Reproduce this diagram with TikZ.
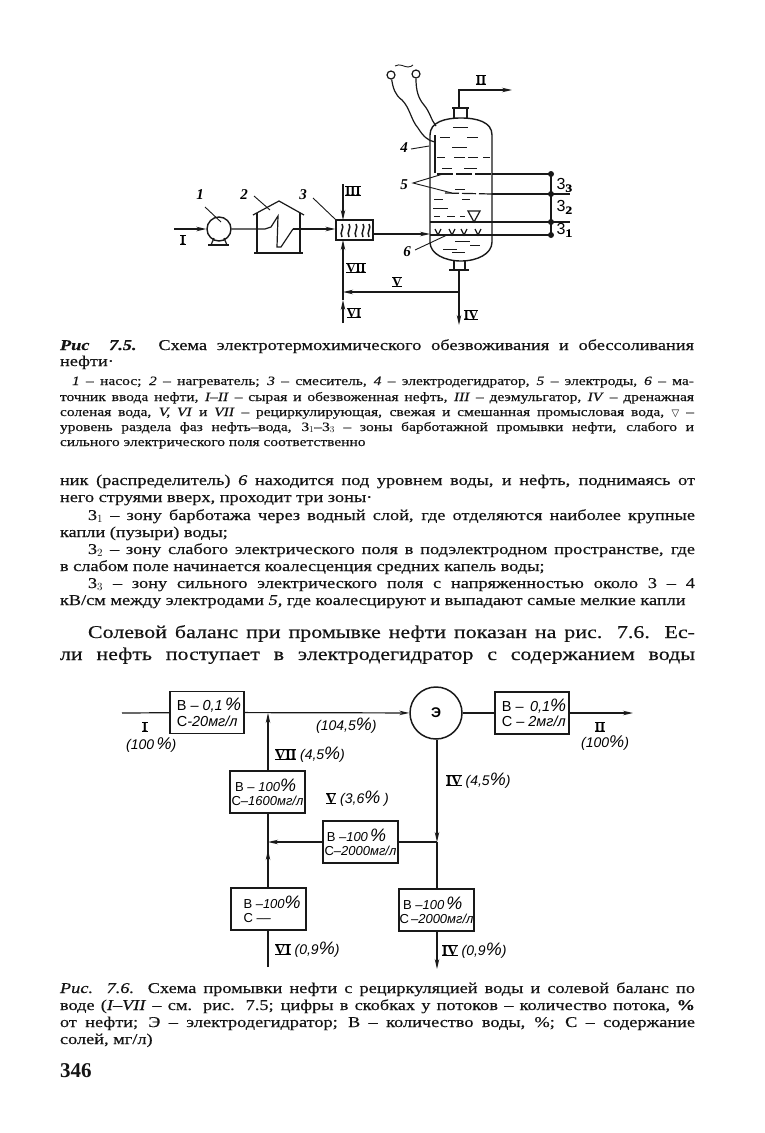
\documentclass[tikz,border=0pt]{standalone}
\usepackage{fontspec}
\setmainfont[FakeStretch=1.22,FakeBold=0.35]{Liberation Serif}
\newfontfamily\plainserif{Liberation Serif}
\newfontfamily\hwfont{Liberation Sans}
\newfontfamily\symfont{DejaVu Sans}
\usetikzlibrary{arrows.meta}
\newcommand{\fs}[1]{\fontsize{#1}{#1}\selectfont}
\newcommand{\rn}[1]{{\plainserif\bfseries\upshape\setbox0\hbox{#1}\rlap{\rule[-0.6pt]{\wd0}{.6pt}}\rlap{\rule[\ht0]{\wd0}{.6pt}}\box0}}
\newcommand{\jline}[6]{\node[pline,font=\fs{#5}] (#1) at (#2,#3) {\makebox[#4pt][s]{#6}};}
\newcommand{\fline}[5]{\node[pline,font=\fs{#4}] (#1) at (#2,#3) {#5};}
\newcommand{\Bu}{{\upshape В}}
\newcommand{\Cu}{{\upshape С}}
\tikzset{
  x=1pt,y=-1pt,
  ink/.style={draw=black!90,line width=1.2pt},
  thin ink/.style={draw=black!90,line width=.9pt},
  arr/.style={ink,-{Stealth[length=10pt,width=4.5pt]}},
  pline/.style={anchor=base west,inner sep=0pt,outer sep=0pt,text=black!92},
  lab/.style={inner sep=0pt,font=\plainserif\fs{15}\itshape\bfseries},
  rom/.style={inner sep=0pt,font=\fs{13}},
  hw/.style={inner sep=0pt,anchor=base west,font=\hwfont\itshape\fs{14}},
  procbox/.style={draw=black!90,line width=1.4pt,fill=white,inner sep=0pt,minimum width=74pt,minimum height=42pt,
     align=left,font=\hwfont\itshape\fs{13}},
  dash line/.style={thin ink},
}
\begin{document}
\begin{tikzpicture}
\useasboundingbox[fill=white] (0,0) rectangle (764,1133);
% ---------- Figure 7.5 ----------
\coordinate (inI) at (174,229);
\node[circle,ink,line width=1.4pt,minimum size=24pt,inner sep=0pt] (pump) at (219,229) {};
\draw[ink,line width=1.6pt] (208,245) -- (229,245);
\draw[ink] (211,245) -- (214,238) (227,245) -- (224,238);
\draw[arr] (inI) -- (pump);
\node[rom] (lI) at (183,240) {\rn{I}};
\node[lab] (n1) at (200,195) {1};
\coordinate (n1e) at (221,222); \draw[thin ink] (205,207) -- (n1e);
% heater
\draw[ink] (253,215) -- (279,201) -- (304,215);
\draw[ink] (257,213) -- (257,253) (300,213) -- (300,253);
\draw[ink] (254,253) -- (303,253);
\coordinate (coilA) at (265,229);
\coordinate (coilB) at (293,229);
\node[draw=black!90,line width=1.3pt,minimum width=37pt,minimum height=20pt,inner sep=0pt] (mixer) at (354.5,230) {};
\draw[ink] (pump) -- (coilA) -- (271,227) -- (278,216) -- (277,247) -- (281,247) -- (coilB);
\draw[arr] (coilB) -- (mixer.west |- coilB);
\foreach \xx in {342,349,356,363,369}{\draw[ink,line width=1.5pt] (\xx,224) .. controls (\xx+3,228) and (\xx-3,232) .. (\xx,237);}
\node[lab] (n2) at (244,195) {2};
\draw[thin ink] (254,196) -- (270,210);
\node[lab] (n3) at (303,195) {3};
\draw[thin ink] (313,198) -- (mixer.north west);
% flows at the mixer
\coordinate (IIItop) at (343,184);
\coordinate (VIbot) at (343,323);
\coordinate (Vj) at (343,292);
\coordinate (Vhalf) at (343,300);
\draw[arr] (IIItop) -- (343,220);
\draw[arr] (Vj) -- (343,240);
\draw[arr] (VIbot) -- (Vhalf);
\draw[ink] (Vhalf) -- (Vj);
\node[rom] (lIII) at (353,191) {\rn{III}};
\node[rom] (lVII) at (356,268) {\rn{VII}};
\node[rom] (lVI) at (354,313) {\rn{VI}};
\node[rom] (lV) at (397,282) {\rn{V}};
% vessel
\coordinate (inlet) at (430,234);
\draw[arr] (mixer.east |- inlet) -- (inlet);
\draw[ink,line width=1.4pt] (430,135) .. controls (430,122) and (445,118) .. (461,118)
   .. controls (477,118) and (492,122) .. (492,135) -- (492,242)
   .. controls (492,254) and (477,261) .. (461,261)
   .. controls (445,261) and (430,254) .. (430,242) -- cycle;
\draw[ink] (454,118) -- (454,108) (467,118) -- (467,108);
\draw[ink] (452,108) -- (469,108);
\coordinate (IIend) at (512,90);
\draw[arr] (459,108) -- (459,90) -- (IIend);
\node[rom] (lII) at (481,80) {\rn{II}};
\draw[ink] (454,261) -- (454,270) (465,261) -- (465,270);
\draw[ink] (449,270) -- (469,270);
\coordinate (IVend) at (459,325);
\draw[arr] (459,270) -- (IVend);
\node[rom] (lIV) at (471,315) {\rn{IV}};
\coordinate (Vst) at (459,292);
\draw[arr] (Vst) -- (Vj);
% zone levels
\coordinate (z3) at (551,174); \coordinate (z2) at (551,194); \coordinate (z1) at (551,222); \coordinate (z0) at (551,235);
\draw[ink] (492,174) -- (z3);
\draw[ink] (492,194) -- (570,194);
\draw[ink] (430,222) -- (570,222);
\draw[ink] (430,235) -- (z0);
\draw[ink,line width=1.4pt] (z3) -- (z0);
\foreach \c in {z3,z2,z1,z0}{\fill[black!90] (\c) circle (3pt);}
\draw[ink,dash pattern=on 16pt off 3pt] (437,174) -- (492,174);
\draw[ink,dash pattern=on 14pt off 3pt] (445,193) -- (492,194);
% water dashes
\foreach \a/\b/\y in {453/468/127,440/450/137,467/478/137,452/467/147,437/445/157,454/465/157,468/478/157,483/490/157,
   442/452/168,464/477/168,455/465/189,434/443/199,462/470/199,433/448/208,434/440/216,447/455/216,460/465/216,
   455/470/241,443/457/249,452/465/252,470/480/245}
  {\draw[dash line] (\a,\y) -- (\b,\y);}
% sparger
\foreach \xx in {438,452,464,478}{\draw[ink] (\xx-3,229) -- (\xx,235) -- (\xx+3,229);}
% level mark
\draw[ink] (468,211) -- (480,211) -- (474,222) -- cycle;
% electrode rod and wires
\draw[ink] (435,135) -- (435,173);
\node[circle,ink,minimum size=8pt,inner sep=0pt] (tL) at (391,75) {};
\node[circle,ink,minimum size=8pt,inner sep=0pt] (tR) at (416,74) {};
\draw[ink] (tL) .. controls (393,88) and (395,95) .. (402,100) .. controls (410,108) and (411,120) .. (418,128) .. controls (423,136) and (428,141) .. (435,142);
\draw[ink] (tR) .. controls (416,90) and (418,98) .. (424,105) .. controls (430,112) and (431,120) .. (436,126);
\draw[thin ink] (395,66) .. controls (400,63) and (404,67) .. (408,67) .. controls (410,67) and (412,66) .. (413,65);
% labels
\node[lab] (n4) at (404,148) {4};
\draw[thin ink] (411,149) -- (429,146);
\node[lab] (n5) at (404,185) {5};
\draw[thin ink] (443,174) -- (413,183) -- (452,193);
\node[lab] (n6) at (407,252) {6};
\draw[thin ink] (415,250) -- (447,235);
\node[inner sep=0pt,font=\hwfont\fs{16}] (z33) at (564,185) {3$_{\mathbf 3}$};
\node[inner sep=0pt,font=\hwfont\fs{16}] (z32) at (564,207) {3$_{\mathbf 2}$};
\node[inner sep=0pt,font=\hwfont\fs{16}] (z31) at (564,230) {3$_{\mathbf 1}$};
% ---------- Text ----------
\jline{c1}{60}{350}{634}{15}{\textbf{\textit{Рис\ \ 7.5.}} Схема электротермохимического обезвоживания и обессоливания}
\fline{c2}{60}{366}{15}{нефти·}
\jline{c3}{72}{385}{622}{12.7}{\textit{1} – насос; \textit{2} – нагреватель; \textit{3} – смеситель, \textit{4} – электродегидратор, \textit{5} – электроды, \textit{6} – ма-}
\jline{c4}{60}{401}{634}{12.7}{точник ввода нефти, \textit{I–II} – сырая и обезвоженная нефть, \textit{III} – деэмульгатор, \textit{IV} – дренажная}
\jline{c5}{60}{416}{634}{12.7}{соленая вода, \textit{V, VI} и \textit{VII} – рециркулирующая, свежая и смешанная промысловая вода, {\symfont\fs{10}▽} –}
\jline{c6}{60}{431}{634}{12.7}{уровень раздела фаз нефть–вода, 3$_1$–3$_3$ – зоны барботажной промывки нефти, слабого и}
\fline{c7}{60}{446}{12.7}{сильного электрического поля соответственно}
\jline{b1}{60}{485}{635}{15}{ник (распределитель) \textit{6} находится под уровнем воды, и нефть, поднимаясь от}
\fline{b2}{60}{502}{15}{него струями вверх, проходит три зоны·}
\jline{b3}{88}{520}{607}{15}{3$_1$ – зону барботажа через водный слой, где отделяются наиболее крупные}
\fline{b4}{60}{537}{15}{капли (пузыри) воды;}
\jline{b5}{88}{554}{607}{15}{3$_2$ – зону слабого электрического поля в подэлектродном пространстве, где}
\fline{b6}{60}{571}{15}{в слабом поле начинается коалесценция средних капель воды;}
\jline{b7}{88}{588}{607}{15}{3$_3$ – зону сильного электрического поля с напряженностью около 3 – 4}
\fline{b8}{60}{605}{15}{кВ/см между электродами \textit{5,} где коалесцируют и выпадают самые мелкие капли}
\jline{d1}{88}{638}{607}{18}{Солевой баланс при промывке нефти показан на рис. 7.6. Ес-}
\jline{d2}{60}{660}{635}{18}{ли нефть поступает в электродегидратор с содержанием воды}
\jline{e1}{60}{993}{635}{15}{\textit{Рис. 7.6.} Схема промывки нефти с рециркуляцией воды и солевой баланс по}
\jline{e2}{60}{1010}{635}{15}{воде (\textit{I–VII} – см. рис. 7.5; цифры в скобках у потоков – количество потока, \textbf{\%}}
\jline{e3}{60}{1027}{635}{15}{от нефти; Э – электродегидратор; В – количество воды, \%; С – содержание}
\fline{e4}{60}{1044}{15}{солей, мг/л)}
\node[pline,font=\plainserif\bfseries\fs{21}] (pg) at (60,1077) {346};
% ---------- Figure 7.6 ----------
\node[procbox,font=\hwfont\itshape\fs{14.5}] (b01) at (207,712.5) {\ \Bu\ – 0,1\,{\fs{18}\%}\\[1pt]\ \Cu-20мг/л};
\node[procbox,font=\hwfont\itshape\fs{14.5}] (b02) at (532,713) {\ \Bu\ – \,0,1{\fs{18}\%}\\[1pt]\ \Cu\ – 2мг/л};
\node[procbox,minimum width=75pt] (b03) at (267.5,792) {\ \Bu\ – 100{\fs{18}\%}\\[1pt]\Cu–1600мг/л};
\node[procbox,minimum width=75pt] (b04) at (360.5,842) {\,\Bu\ –100\,{\fs{18}\%}\\[1pt]\Cu–2000мг/л};
\node[procbox,minimum width=75pt] (b05) at (268.5,909) {\ \ \Bu\ –100{\fs{18}\%}\\[1pt]\ \ \Cu\ ––\hspace{25pt}\,};
\node[procbox,minimum width=75pt] (b06) at (436.5,910) {\ \Bu\ –100\,{\fs{18}\%}\\[1pt]\Cu\,–2000мг/л};
\node[circle,draw=black!90,line width=1.5pt,minimum size=52pt,inner sep=0pt,font=\hwfont\bfseries\fs{14}] (el) at (436,713) {Э};
\coordinate (i0) at (122,713);
\coordinate (j1) at (268,713);
\coordinate (j2) at (268,842);
\coordinate (j3) at (437,842);
\coordinate (o2) at (633,713);
\coordinate (o4) at (437,969);
\coordinate (i6) at (268,967);
\draw[ink] (i0) -- (b01);
\draw[arr] (b01) -- (el);
\draw[ink] (el) -- (b02);
\draw[arr] (b02) -- (o2);
\draw[arr] (b03.north -| j1) -- (j1);
\draw[ink] (i6) -- (b05.south -| i6);
\draw[ink] (b05.north -| j2) -- (b03.south -| j2);
\draw[arr] (b05.north -| j2) -- (268,850);
\draw[arr] (b04) -- (j2);
\draw[ink] (j3) -- (b04);
\draw[arr] (el.south -| j3) -- (j3);
\draw[ink] (j3) -- (b06.north -| j3);
\draw[arr] (b06.south -| o4) -- (o4);
\node[rom] (tI) at (145,727) {\rn{I}};
\node[hw] (t100a) at (126,749) {(100\,{\fs{17}\%})};
\node[hw] (t104) at (316,730) {(104,5{\fs{18}\%})};
\node[rom] (tII) at (600,727) {\rn{II}};
\node[hw] (t100b) at (581,747) {(100{\fs{17}\%})};
\node[hw] (t7) at (275,759) {\rn{VII} (4,5{\fs{18}\%})};
\node[hw] (t5) at (326,803) {\rn{V} (3,6{\fs{18}\%} )};
\node[hw] (t6) at (275,954) {\rn{VI} (0,9{\fs{18}\%})};
\node[hw] (t4) at (446,785) {\rn{IV} (4,5{\fs{18}\%})};
\node[hw] (t4b) at (442,955) {\rn{IV} (0,9{\fs{18}\%})};
\end{tikzpicture}
\end{document}
